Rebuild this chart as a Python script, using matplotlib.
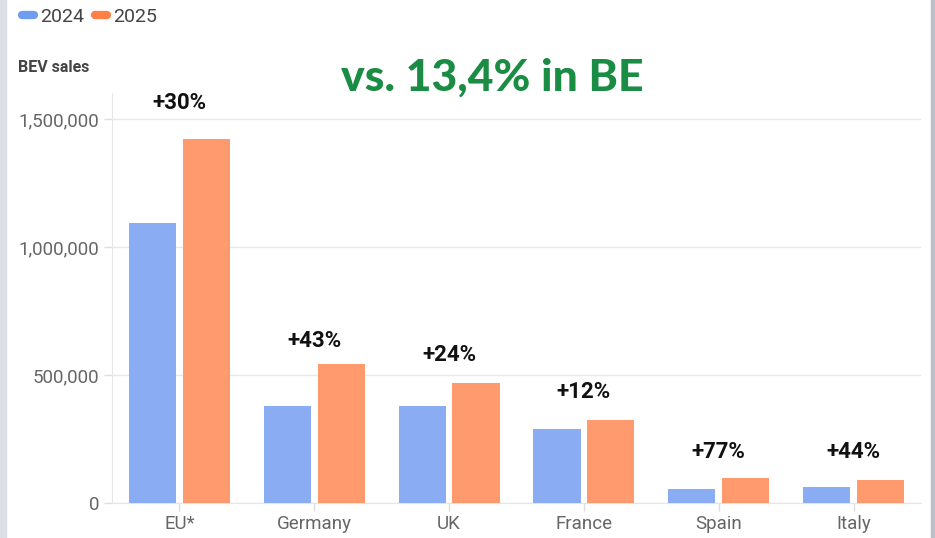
import matplotlib.pyplot as plt
from matplotlib.lines import Line2D
from matplotlib.patches import Rectangle
import numpy as np

plt.rcParams['font.family'] = ['Roboto', 'DejaVu Sans']

paises = ["EU*", "Germany", "UK", "France", "Spain", "Italy"]
ventas_2024 = [1095000, 378000, 379000, 288000, 54000, 62000]
ventas_2025 = [1421000, 543000, 470000, 324000, 98000, 90000]
crecimiento = ["+30%", "+43%", "+24%", "+12%", "+77%", "+44%"]
yticks = [0, 500000, 1000000, 1500000]

azul = "#8aacf2"
naranja = "#ff9a6e"

fig = plt.figure(figsize=(9.35, 5.38), dpi=100)
ax = fig.add_axes([0.1198, 0.0651, 0.8652, 0.7613])

x = np.arange(len(paises))
ancho = 0.35
ax.bar(x - 0.2, ventas_2024, ancho, color=azul, zorder=3)
ax.bar(x + 0.2, ventas_2025, ancho, color=naranja, zorder=3)

# etiquetas de crecimiento sobre cada grupo
separacion = [26, 16.5, 20, 20, 18.5, 20]
for i in range(len(paises)):
    tope = max(ventas_2024[i], ventas_2025[i])
    ax.annotate(crecimiento[i], (x[i], tope), xytext=(0, separacion[i]),
                textcoords="offset points", ha="center", va="center",
                fontsize=16, fontweight="bold", color="#111111")

ax.set_xlim(-0.5, len(paises) - 0.5)
ax.set_ylim(0, 1600000)
ax.set_xticks(x)
ax.set_xticklabels(paises)
ax.set_yticks(yticks)
ax.set_yticklabels([f"{v:,}" for v in yticks])
ax.tick_params(axis="both", colors="#dddddd", labelcolor="#666666",
               labelsize=13.5, length=6, width=1)
ax.tick_params(axis="x", pad=3)
ax.tick_params(axis="y", pad=3)
ax.grid(axis="y", color="#e8e8e8", linewidth=1, zorder=0)
for lado in ["top", "right"]:
    ax.spines[lado].set_visible(False)
ax.spines["left"].set_color("#e6e6e6")
ax.spines["bottom"].set_color("#e6e6e6")

fig.text(0.019, 0.875, "BEV sales", fontsize=11.5, fontweight="bold",
         color="#444444", ha="left", va="center")
fig.text(0.527, 0.855, "vs. 13,4% in BE", fontsize=32, fontweight="black",
         color="#1a8c44", ha="center", va="center",
         family=["Lato", "DejaVu Sans"])

manijas = [Line2D([0], [0], color="#6f9ef0", lw=6, solid_capstyle="round"),
           Line2D([0], [0], color="#ff8047", lw=6, solid_capstyle="round")]
fig.legend(manijas, ["2024", "2025"], loc="upper left",
           bbox_to_anchor=(0.005, 1.018), ncol=2, frameon=False,
           fontsize=14, labelcolor="#444444", handlelength=0.6,
           handletextpad=0.3, columnspacing=0.6)

# bordes de la captura
fig.add_artist(Rectangle((0, 0), 0.006, 1, transform=fig.transFigure,
                         color="#dcdfe5", zorder=0))
fig.add_artist(Rectangle((0.996, 0), 0.004, 1, transform=fig.transFigure,
                         color="#b9c0cc", zorder=0))

fig.savefig("out.png", dpi=100)
